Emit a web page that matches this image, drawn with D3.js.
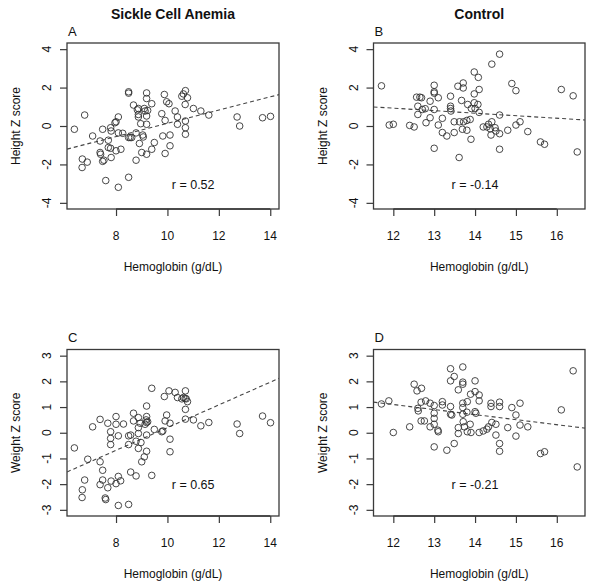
<!DOCTYPE html>
<html><head><meta charset="utf-8">
<script src="https://cdn.jsdelivr.net/npm/d3@7"></script>
<style>
body{margin:0;background:#fff}
svg{display:block}
text{font-family:"Liberation Sans",Arial,Helvetica,sans-serif;fill:#111}
</style>
</head><body>
<svg id="chart" width="600" height="585"></svg>
<script>
// ---------- data ----------
const groupTitles = ["Sickle Cell Anemia", "Control"];
const panelLetters = ["A", "B", "C", "D"];
const xAxisLabel = "Hemoglobin (g/dL)";
const yAxisLabels = ["Height Z score", "Weight Z score"];
const scaXTicks = [8, 10, 12, 14];
const ctrlXTicks = [12, 13, 14, 15, 16];
const heightYTicks = [-4, -2, 0, 2, 4];
const weightYTicks = [-3, -2, -1, 0, 1, 2, 3];
const rLabels = ["r = 0.52", "r = -0.14", "r = 0.65", "r = -0.21"];
const rLabelAt = [[11, -3.05], [14, -3.05], [11, -2.05], [14, -2.05]];
// regression lines: [intercept, slope]
const fitLines = [[-3.30, 0.344], [2.50, -0.131], [-4.22, 0.442], [3.45, -0.196]];

// A: SCA hemoglobin vs height Z
const pointsA = [[6.38,-0.17],[6.78,0.57],[6.69,-1.72],[6.68,-2.16],[6.88,-1.88],[7.09,-0.52],[7.38,-0.78],[7.48,-0.17],[7.38,-1.38],[7.40,-1.47],[7.48,-1.84],[7.53,-1.78],[7.60,-2.84],[7.70,-0.74],[7.70,-1.12],[7.79,-0.09],[7.81,-0.26],[7.79,-1.16],[7.81,-1.64],[7.96,0.17],[8.00,0.22],[8.00,-1.29],[8.09,0.47],[8.09,-0.36],[8.09,-3.19],[8.19,-1.21],[8.26,-0.38],[8.49,1.78],[8.49,1.71],[8.49,-0.60],[8.55,-0.60],[8.61,-0.60],[8.49,-2.67],[8.68,1.09],[8.78,-1.78],[8.78,-0.36],[8.83,0.84],[8.87,0.91],[8.87,0.60],[8.87,0.47],[8.91,-0.91],[8.96,0.12],[9.00,-1.38],[9.04,-0.47],[9.06,-0.57],[9.10,0.91],[9.13,0.78],[9.19,1.72],[9.19,1.43],[9.19,0.52],[9.19,0.09],[9.19,-1.47],[9.23,0.81],[9.39,1.16],[9.39,-1.21],[9.49,-0.86],[9.78,0.64],[9.82,-0.52],[9.88,1.64],[9.91,0.29],[9.91,-1.43],[9.97,1.26],[10.06,1.16],[10.10,-0.47],[10.10,-1.03],[10.30,0.78],[10.39,0.09],[10.39,0.47],[10.56,1.55],[10.62,1.67],[10.70,1.84],[10.69,1.12],[10.70,0.26],[10.70,-0.09],[10.70,-0.43],[10.78,1.47],[11.01,0.91],[11.30,0.78],[11.61,0.57],[12.71,0.47],[12.81,0.00],[13.70,0.43],[14.01,0.50]];

// B: control hemoglobin vs height Z
const pointsB = [[11.71,2.09],[11.90,0.05],[12.00,0.09],[12.40,0.03],[12.51,-0.05],[12.57,1.50],[12.60,1.03],[12.60,0.60],[12.65,1.50],[12.69,1.47],[12.71,0.86],[12.78,0.90],[12.80,0.17],[12.90,0.43],[12.90,1.29],[13.00,2.12],[13.00,1.78],[13.00,1.71],[13.00,0.86],[13.00,-1.16],[13.10,1.47],[13.10,0.05],[13.20,0.40],[13.20,-0.34],[13.31,-0.52],[13.40,1.55],[13.40,1.03],[13.40,0.91],[13.41,0.78],[13.49,0.22],[13.49,-0.34],[13.58,2.07],[13.61,-1.64],[13.62,0.22],[13.71,2.24],[13.71,1.98],[13.67,1.33],[13.69,-0.17],[13.72,0.22],[13.80,-0.22],[13.80,0.29],[13.82,1.12],[13.88,0.34],[13.90,-0.69],[13.91,0.91],[13.98,2.81],[13.98,1.67],[13.98,1.21],[14.00,0.91],[14.07,1.12],[14.08,2.53],[14.10,1.90],[14.10,0.71],[14.20,-0.05],[14.29,-0.05],[14.33,0.09],[14.37,-0.14],[14.41,3.22],[14.41,0.22],[14.39,-0.47],[14.49,-0.09],[14.51,-0.26],[14.60,3.74],[14.60,0.57],[14.60,-0.40],[14.60,-1.21],[14.80,-0.22],[14.90,2.21],[15.00,1.84],[15.00,0.05],[15.10,0.22],[15.29,-0.29],[15.60,-0.83],[15.70,-0.95],[16.11,1.90],[16.40,1.57],[16.50,-1.35]];

// C: SCA hemoglobin vs weight Z
const pointsC = [[6.38,-0.59],[6.69,-2.22],[6.68,-2.52],[6.78,-1.84],[6.90,-1.03],[7.09,0.23],[7.38,0.52],[7.38,-1.13],[7.38,-2.02],[7.48,-1.46],[7.48,-1.84],[7.58,-2.54],[7.60,-2.60],[7.68,0.37],[7.68,-2.14],[7.79,0.04],[7.79,-0.22],[7.79,-0.46],[7.81,-1.88],[8.00,0.63],[8.00,0.33],[8.00,-1.98],[8.09,-0.12],[8.09,-1.70],[8.09,-2.83],[8.18,-1.87],[8.29,0.34],[8.49,-0.12],[8.49,-0.46],[8.49,-2.79],[8.57,-1.53],[8.57,-0.09],[8.68,0.76],[8.68,0.46],[8.78,-0.33],[8.78,-1.68],[8.87,0.59],[8.87,0.20],[8.87,-0.03],[8.87,-0.61],[8.94,0.37],[8.97,-0.38],[9.00,-1.13],[9.10,-0.94],[9.13,0.33],[9.17,0.50],[9.19,1.04],[9.19,0.63],[9.19,0.40],[9.19,-0.09],[9.19,-0.72],[9.23,0.43],[9.39,1.73],[9.39,-1.66],[9.49,0.13],[9.78,0.04],[9.82,0.07],[9.88,1.41],[9.91,0.46],[9.97,0.69],[10.06,1.63],[10.10,-0.25],[10.10,-0.74],[10.10,0.37],[10.30,1.57],[10.39,1.37],[10.56,1.32],[10.62,1.37],[10.70,1.63],[10.69,1.34],[10.73,1.32],[10.70,0.91],[10.70,0.53],[10.78,1.21],[11.01,0.50],[11.30,0.27],[11.61,0.40],[12.71,0.34],[12.81,-0.03],[13.70,0.65],[14.01,0.39]];

// D: control hemoglobin vs weight Z
const pointsD = [[11.71,1.12],[11.89,1.24],[12.00,0.01],[12.40,0.23],[12.51,1.89],[12.58,1.63],[12.69,1.73],[12.60,0.95],[12.61,0.85],[12.68,1.19],[12.68,0.46],[12.76,0.46],[12.79,1.24],[12.90,1.15],[12.90,0.23],[13.00,1.06],[13.00,0.76],[13.00,0.56],[13.00,0.33],[13.00,-0.55],[13.09,0.10],[13.10,0.04],[13.20,1.21],[13.20,1.08],[13.31,-0.68],[13.40,2.49],[13.40,2.02],[13.40,1.02],[13.40,0.72],[13.43,0.69],[13.49,2.19],[13.49,-0.42],[13.59,1.67],[13.59,0.20],[13.59,-0.03],[13.70,2.56],[13.70,1.97],[13.70,1.89],[13.70,1.15],[13.70,0.98],[13.70,0.72],[13.71,0.43],[13.74,0.23],[13.80,0.80],[13.81,1.21],[13.81,0.04],[13.88,0.33],[13.90,0.01],[13.89,1.50],[14.00,2.02],[14.00,1.60],[14.00,0.82],[14.02,0.76],[14.10,1.47],[14.10,1.24],[14.10,0.01],[14.20,0.07],[14.29,0.14],[14.33,0.23],[14.39,1.15],[14.39,1.02],[14.41,0.40],[14.51,0.33],[14.51,-0.09],[14.60,1.19],[14.60,1.02],[14.60,-0.42],[14.60,-0.72],[14.80,0.20],[14.90,0.98],[15.00,0.69],[15.00,-0.13],[15.10,1.15],[15.10,0.30],[15.29,0.23],[15.60,-0.81],[15.70,-0.74],[16.11,0.89],[16.40,2.41],[16.50,-1.33]];

// ---------- drawing ----------
const svg = d3.select("#chart");
const ink = "#3a3a3a";

const cols = [{left: 67, right: 279, xDomain: [6.093, 14.34], xTicks: scaXTicks},
              {left: 373.5, right: 585, xDomain: [11.515, 16.69], xTicks: ctrlXTicks}];
const rows = [{top: 43, bottom: 209, yDomain: [-4.32, 4.32], yTicks: heightYTicks, yLabel: yAxisLabels[0]},
              {top: 349.5, bottom: 516, yDomain: [-3.24, 3.24], yTicks: weightYTicks, yLabel: yAxisLabels[1]}];
const panelPoints = [pointsA, pointsB, pointsC, pointsD];

// group titles
cols.forEach((c, i) => {
  svg.append("text")
    .attr("x", (c.left + c.right) / 2).attr("y", 14)
    .attr("text-anchor", "middle").attr("dominant-baseline", "central")
    .style("font-weight", "bold").style("font-size", "14px")
    .text(groupTitles[i]);
});

rows.forEach((r, ri) => {
  cols.forEach((c, ci) => {
    const k = ri * 2 + ci;
    const x = d3.scaleLinear().domain(c.xDomain).range([c.left, c.right]);
    const y = d3.scaleLinear().domain(r.yDomain).range([r.bottom, r.top]);
    const g = svg.append("g");
    const clipId = "clip" + k;
    svg.append("clipPath").attr("id", clipId).append("rect")
      .attr("x", c.left).attr("y", r.top)
      .attr("width", c.right - c.left).attr("height", r.bottom - r.top);

    // x axis ticks
    const xa = g.append("g").attr("transform", `translate(0,${r.bottom})`)
      .call(d3.axisBottom(x).tickValues(c.xTicks).tickSize(7).tickFormat(""));
    xa.select(".domain").remove();
    xa.selectAll("line").attr("stroke", ink).attr("stroke-width", 1.2);
    g.append("line")
      .attr("x1", x(c.xTicks[0])).attr("x2", x(c.xTicks[c.xTicks.length - 1]))
      .attr("y1", r.bottom).attr("y2", r.bottom)
      .attr("stroke", ink).attr("stroke-width", 1.4);
    g.selectAll(null).data(c.xTicks).enter().append("text")
      .attr("x", d => x(d)).attr("y", r.bottom + 27)
      .attr("text-anchor", "middle").attr("dominant-baseline", "central")
      .style("font-size", "12px").text(d => String(d));
    g.append("text")
      .attr("x", (c.left + c.right) / 2).attr("y", r.bottom + 57.5)
      .attr("text-anchor", "middle").attr("dominant-baseline", "central")
      .style("font-size", "12px").text(xAxisLabel);

    // y axis ticks
    const ya = g.append("g").attr("transform", `translate(${c.left},0)`)
      .call(d3.axisLeft(y).tickValues(r.yTicks).tickSize(7).tickFormat(""));
    ya.select(".domain").remove();
    ya.selectAll("line").attr("stroke", ink).attr("stroke-width", 1.2);
    g.selectAll(null).data(r.yTicks).enter().append("text")
      .attr("transform", d => `translate(${c.left - 20},${y(d)}) rotate(-90)`)
      .attr("text-anchor", "middle").attr("dominant-baseline", "central")
      .style("font-size", "12px").text(d => String(d));
    g.append("text")
      .attr("transform", `translate(${c.left - 51},${(r.top + r.bottom) / 2}) rotate(-90)`)
      .attr("text-anchor", "middle").attr("dominant-baseline", "central")
      .style("font-size", "12px").text(r.yLabel);

    // frame
    g.append("rect")
      .attr("x", c.left).attr("y", r.top)
      .attr("width", c.right - c.left).attr("height", r.bottom - r.top)
      .attr("fill", "none").attr("stroke", ink).attr("stroke-width", 1.3);

    // panel letter
    g.append("text")
      .attr("x", c.left + 1).attr("y", r.top - 12)
      .attr("dominant-baseline", "central")
      .style("font-size", "13px").text(panelLetters[k]);

    // regression line
    const [b0, b1] = fitLines[k];
    g.append("line").attr("clip-path", `url(#${clipId})`)
      .attr("x1", x(c.xDomain[0])).attr("y1", y(b0 + b1 * c.xDomain[0]))
      .attr("x2", x(c.xDomain[1])).attr("y2", y(b0 + b1 * c.xDomain[1]))
      .attr("stroke", "#444").attr("stroke-width", 1.1)
      .attr("stroke-dasharray", "4,3");

    // points
    g.selectAll(null).data(panelPoints[k]).enter().append("circle")
      .attr("cx", d => x(d[0])).attr("cy", d => y(d[1])).attr("r", 3.3)
      .attr("fill", "none").attr("stroke", "#333").attr("stroke-width", 0.9);

    // correlation label
    g.append("text")
      .attr("x", x(rLabelAt[k][0])).attr("y", y(rLabelAt[k][1]))
      .attr("text-anchor", "middle").attr("dominant-baseline", "central")
      .style("font-size", "12.5px").text(rLabels[k]);
  });
});
</script>
</body></html>
